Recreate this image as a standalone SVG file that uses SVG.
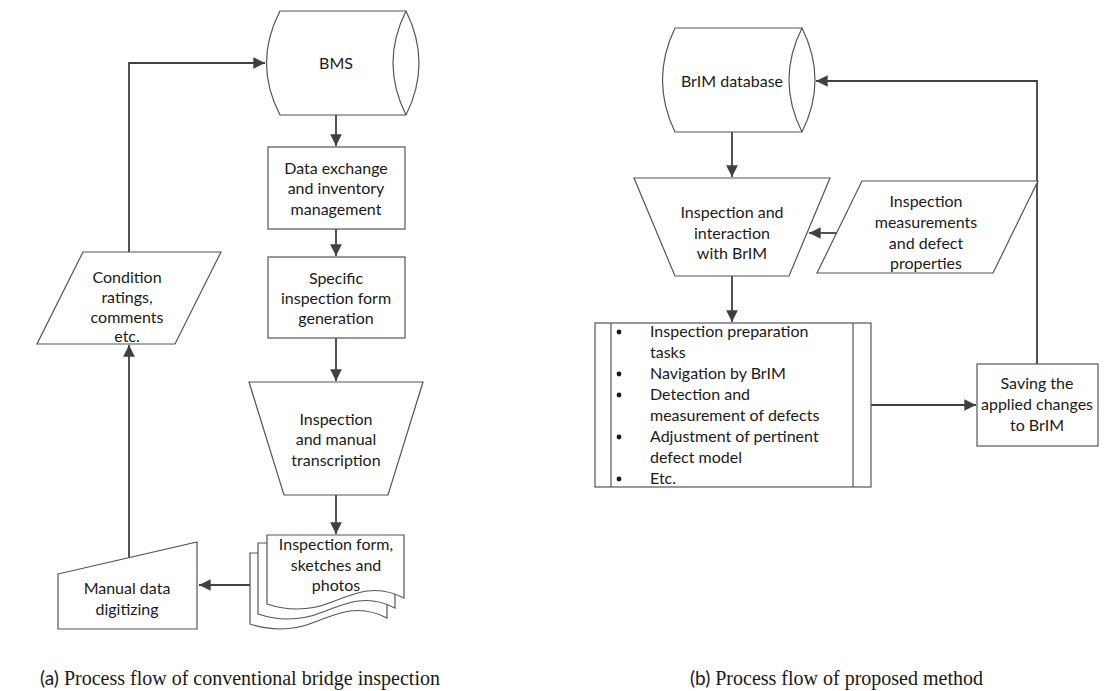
<svg xmlns="http://www.w3.org/2000/svg" width="1108" height="691" viewBox="0 0 1108 691">
<style>
.s{fill:#fff;stroke:#555;stroke-width:1.2}
.t{font-family:Lato,"Open Sans",sans-serif;font-size:16px;fill:#1a1a1a;text-anchor:middle}
.l{font-family:Lato,"Open Sans",sans-serif;font-size:16px;fill:#1a1a1a}
.c{fill:none;stroke:#404040;stroke-width:1.8}
.cap{font-family:"Liberation Serif",serif;font-size:20px;fill:#1a1a1a}
.capa{font-family:Lato,"Open Sans",sans-serif;font-size:19px;fill:#1a1a1a}
</style>
<defs>
<marker id="ah" viewBox="0 0 10 10" refX="10" refY="5" markerWidth="6.5" markerHeight="6.5" orient="auto" markerUnits="strokeWidth">
<path d="M0,0 L10,5 L0,10 Z" fill="#404040"/>
</marker>
</defs>
<rect width="1108" height="691" fill="#fff"/>

<g id="connectors">
<path class="c" d="M129,252 V63 H265" marker-end="url(#ah)"/>
<path class="c" d="M336,115 V146" marker-end="url(#ah)"/>
<path class="c" d="M336,229 V256" marker-end="url(#ah)"/>
<path class="c" d="M336,338 V381" marker-end="url(#ah)"/>
<path class="c" d="M336,495 V534" marker-end="url(#ah)"/>
<path class="c" d="M258,585 H199" marker-end="url(#ah)"/>
<path class="c" d="M129,557 V345" marker-end="url(#ah)"/>
<path class="c" d="M732,132 V177" marker-end="url(#ah)"/>
<path class="c" d="M838,233 H809" marker-end="url(#ah)"/>
<path class="c" d="M732,276 V322" marker-end="url(#ah)"/>
<path class="c" d="M871,405 H976" marker-end="url(#ah)"/>
<path class="c" d="M1037,364 V81 H816" marker-end="url(#ah)"/>
</g>

<g id="bms">
<path class="s" d="M280,11 H406 Q432,63 406,115 H280 Q253,63 280,11 Z"/>
<path class="s" d="M406,11 Q380,63 406,115"/>
<text class="t" x="336" y="69">BMS</text>
</g>

<g id="data-exchange">
<rect class="s" x="268" y="147" width="137" height="82"/>
<text class="t" x="336" y="174">Data exchange</text>
<text class="t" x="336" y="194">and inventory</text>
<text class="t" x="336" y="215">management</text>
</g>

<g id="specific-form">
<rect class="s" x="268" y="257" width="137" height="81"/>
<text class="t" x="336" y="284">Specific</text>
<text class="t" x="336" y="304">inspection form</text>
<text class="t" x="336" y="324">generation</text>
</g>

<g id="manual-transcription">
<path class="s" d="M249,382 H423 L388,495 H284 Z"/>
<text class="t" x="336" y="425">Inspection</text>
<text class="t" x="336" y="445">and manual</text>
<text class="t" x="336" y="466">transcription</text>
</g>

<g id="inspection-form">
<path class="s" d="M250,553 H387 V618 C360,604 340,612 315,622 C290,632 268,630 250,624 Z"/>
<path class="s" d="M258,543 H395 V608 C368,594 348,602 323,612 C298,622 276,620 258,614 Z"/>
<path class="s" d="M267,535 H404 V598 C377,584 357,592 332,602 C307,612 285,610 267,604 Z"/>
<text class="t" x="336" y="550">Inspection form,</text>
<text class="t" x="336" y="571">sketches and</text>
<text class="t" x="336" y="591">photos</text>
</g>

<g id="manual-digitizing">
<path class="s" d="M58,574 L197,542 V629 H58 Z"/>
<text class="t" x="127" y="594">Manual data</text>
<text class="t" x="127" y="615">digitizing</text>
</g>

<g id="condition-ratings">
<path class="s" d="M83,252 H221 L175,344 H37 Z"/>
<text class="t" x="127" y="283">Condition</text>
<text class="t" x="127" y="303">ratings,</text>
<text class="t" x="127" y="323">comments</text>
<text class="t" x="127" y="342">etc.</text>
</g>

<g id="brim-database">
<path class="s" d="M675,28 H802 Q828,80 802,132 H675 Q650,80 675,28 Z"/>
<path class="s" d="M802,28 Q776,80 802,132"/>
<text class="t" x="732" y="87">BrIM database</text>
</g>

<g id="inspection-interaction">
<path class="s" d="M634,178 H830 L789,276 H675 Z"/>
<text class="t" x="732" y="218">Inspection and</text>
<text class="t" x="732" y="239">interaction</text>
<text class="t" x="732" y="259">with BrIM</text>
</g>

<g id="measurements">
<path class="s" d="M862,181 H1038 L993,273 H817 Z"/>
<text class="t" x="926" y="207">Inspection</text>
<text class="t" x="926" y="228">measurements</text>
<text class="t" x="926" y="249">and defect</text>
<text class="t" x="926" y="269">properties</text>
</g>

<g id="task-list">
<rect class="s" x="595" y="323" width="276" height="164"/>
<line class="s" x1="611" y1="323" x2="611" y2="487"/>
<line class="s" x1="853" y1="323" x2="853" y2="487"/>
<g fill="#1a1a1a">
<circle cx="619" cy="332" r="2.4"/>
<circle cx="619" cy="374" r="2.4"/>
<circle cx="619" cy="395" r="2.4"/>
<circle cx="619" cy="437" r="2.4"/>
<circle cx="619" cy="479" r="2.4"/>
</g>
<text class="l" x="650" y="337">Inspection preparation</text>
<text class="l" x="650" y="358">tasks</text>
<text class="l" x="650" y="379">Navigation by BrIM</text>
<text class="l" x="650" y="400">Detection and</text>
<text class="l" x="650" y="421">measurement of defects</text>
<text class="l" x="650" y="442">Adjustment of pertinent</text>
<text class="l" x="650" y="463">defect model</text>
<text class="l" x="650" y="484">Etc.</text>
</g>

<g id="saving">
<rect class="s" x="977" y="364" width="121" height="82"/>
<text class="t" x="1037" y="389">Saving the</text>
<text class="t" x="1037" y="410">applied changes</text>
<text class="t" x="1037" y="431">to BrIM</text>
</g>

<g id="captions">
<text x="40" y="685"><tspan class="capa">(a)</tspan><tspan class="cap"> Process flow of conventional bridge inspection</tspan></text>
<text x="690" y="685"><tspan class="capa">(b)</tspan><tspan class="cap"> Process flow of proposed method</tspan></text>
</g>
</svg>
